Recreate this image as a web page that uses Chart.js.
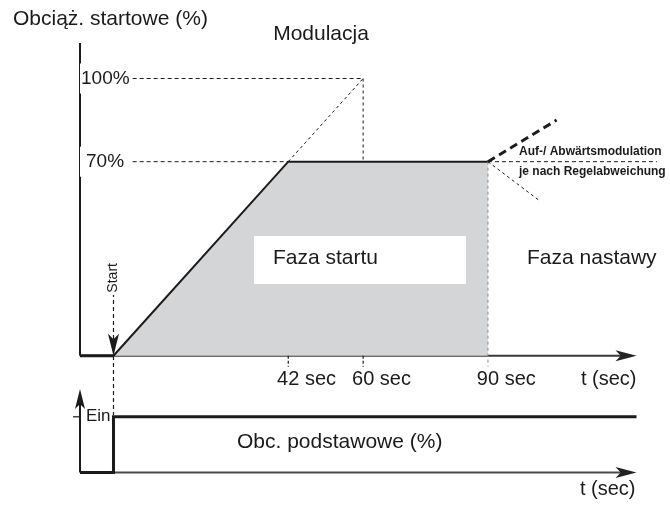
<!DOCTYPE html>
<html>
<head>
<meta charset="utf-8">
<script src="https://cdn.jsdelivr.net/npm/chart.js@4.4.1/dist/chart.umd.min.js"></script>
<style>
  html, body { margin: 0; padding: 0; background: #fff; }
  #wrap { width: 670px; height: 506px; }
</style>
</head>
<body>
<div id="wrap"><canvas id="chart" width="670" height="506"></canvas></div>
<script>
// time axis (sec) and load (%) of the burner start-up
const timeMin = -8.05;
const timeMax = 125.7;
const loadMax = 112.8;

// start phase: ramp from 0 to 70 % in 42 s, hold until 90 s
const rampTimes = [0, 42, 90];
const rampLoads = [0, 70, 70];
const preStartTimes = [timeMin, 0];

// ramp continued up to 100 % at 60 s (dashed)
const peakTimes = [42, 60];
const peakLoads = [70, 100];

// reference levels on the load axis
const levelLoads = [100, 70];
const levelLabels = ["100%", "70%"];
const levelStart = 4.6;
const levelEnds = [60, 42];
const holdLineEnd = 130.6;

// time ticks
const tickTimes = [42, 60, 90];
const tickLabels = ["42 sec", "60 sec", "90 sec"];

// modulation after 90 s: up (thick dashed) or down (thin dashed)
const modUpTimes = [90, 106.5];
const modUpLoads = [70, 85];
const modDownTimes = [90, 102.5];
const modDownLoads = [70, 55.8];

// start marker
const startTop = 22.6;
const startBottom = -21.4;

// base load signal (0 = aus, 1 = ein)
const baseTimes = [timeMin, 0, 0, timeMax];
const baseStates = [0, 0, 1, 1];

const ink = "#1b1b1b";
const family = "'Liberation Sans', Arial, sans-serif";

function pts(xs, ys) {
  return xs.map((t, i) => ({ x: t, y: ys[i] }));
}

function seg(data, color, width, dash, axis) {
  return {
    data: data,
    showLine: true,
    pointRadius: 0,
    borderColor: color,
    borderWidth: width,
    borderDash: dash || [],
    fill: false,
    clip: false,
    yAxisID: axis || "y"
  };
}

const datasets = [];

// modulation paths
datasets.push(seg(pts(modUpTimes, modUpLoads), ink, 3, [8, 5]));
datasets.push(seg(pts(modDownTimes, modDownLoads), ink, 1, [3, 3]));

// reference level lines
levelLoads.forEach((load, i) => {
  datasets.push(seg(pts([levelStart, levelEnds[i]], [load, load]), ink, 1, [4, 3]));
});
datasets.push(seg(pts([90, holdLineEnd], [70, 70]), ink, 1, [4, 3]));

// dashed ramp continuation and drop from 100 %
datasets.push(seg(pts(peakTimes, peakLoads), ink, 1, [3, 3]));
datasets.push(seg(pts([peakTimes[1], peakTimes[1]], [peakLoads[1], 70]), ink, 1, [3, 3]));

// end of start phase marker
datasets.push(seg(pts([90, 90], [70, -4]), "#8a8a8a", 1, [3, 3]));
tickTimes.slice(0, 2).forEach(t => {
  datasets.push(seg(pts([t, t], [0, -4]), ink, 1.2, [3, 2]));
});

// start marker line
datasets.push(seg(pts([0, 0], [startTop, startBottom]), ink, 1.2, [4, 3]));

// base load signal
datasets.push(seg(pts(baseTimes, baseStates), ink, 3, [], "y2"));

// load before start
datasets.push(seg(pts(preStartTimes, [0, 0]), ink, 3));

// start ramp with filled area
datasets.push({
  data: pts(rampTimes, rampLoads),
  showLine: true,
  pointRadius: 0,
  borderColor: ink,
  borderWidth: 2,
  backgroundColor: "#d4d5d7",
  fill: { value: 0 },
  clip: false,
  yAxisID: "y"
});

function line(ctx, x1, y1, x2, y2, color, width) {
  ctx.beginPath();
  ctx.strokeStyle = color;
  ctx.lineWidth = width;
  ctx.moveTo(x1, y1);
  ctx.lineTo(x2, y2);
  ctx.stroke();
}

// arrow head pointing along (dx, dy), with a small notch at the base
function arrow(ctx, tx, ty, dx, dy, len, half, color) {
  const px = -dy, py = dx;
  ctx.beginPath();
  ctx.fillStyle = color;
  ctx.moveTo(tx, ty);
  ctx.lineTo(tx - dx * len + px * half, ty - dy * len + py * half);
  ctx.lineTo(tx - dx * len * 0.75, ty - dy * len * 0.75);
  ctx.lineTo(tx - dx * len - px * half, ty - dy * len - py * half);
  ctx.closePath();
  ctx.fill();
}

function text(ctx, s, x, y, font, align) {
  ctx.font = font;
  ctx.fillStyle = ink;
  ctx.textAlign = align || "left";
  ctx.textBaseline = "middle";
  ctx.fillText(s, x, y);
}

const decor = {
  id: "decor",
  beforeDatasetsDraw(chart) {
    const { ctx, scales: { x, y, y2 } } = chart;
    const x0 = x.getPixelForValue(timeMin);
    const xEnd = x.getPixelForValue(timeMax);
    ctx.save();
    // load axis (upper)
    line(ctx, x0, y.getPixelForValue(loadMax), x0, y.getPixelForValue(0), ink, 2);
    // time axis (upper)
    line(ctx, x0, y.getPixelForValue(0), xEnd - 12, y.getPixelForValue(0), "#3a3a3a", 2);
    // time axis (lower)
    line(ctx, x0, y2.getPixelForValue(0), xEnd - 12, y2.getPixelForValue(0), "#4a4a4a", 2);
    // signal axis (lower)
    line(ctx, x0, y2.getPixelForValue(0), x0, y2.getPixelForValue(1.5) + 12, ink, 2);
    line(ctx, x0 - 7, y2.getPixelForValue(1), x0, y2.getPixelForValue(1), ink, 1.2);
    ctx.restore();
  },
  afterDatasetsDraw(chart) {
    const { ctx, scales: { x, y, y2 } } = chart;
    const x0 = x.getPixelForValue(timeMin);
    const xEnd = x.getPixelForValue(timeMax);
    const xs = x.getPixelForValue(0);
    ctx.save();

    arrow(ctx, xEnd, y.getPixelForValue(0), 1, 0, 21, 5.5, "#222");
    arrow(ctx, xEnd, y2.getPixelForValue(0), 1, 0, 21, 5.5, "#222");
    arrow(ctx, x0, y2.getPixelForValue(1.5), 0, -1, 20, 5, ink);
    arrow(ctx, xs, y.getPixelForValue(0), 0, 1, 22, 5.5, ink);

    // level labels on the load axis
    const levelFont = "19px " + family;
    levelLoads.forEach((load, i) => {
      const py = y.getPixelForValue(load);
      ctx.fillStyle = "#fff";
      ctx.fillRect(x0, py - 15, 48, 30);
      text(ctx, levelLabels[i], i === 0 ? x0 + 1 : x0 + 6, py, levelFont);
    });

    // time tick labels, number centred on the tick
    const tickFont = "20px " + family;
    tickTimes.forEach((t, i) => {
      ctx.font = tickFont;
      const num = tickLabels[i].split(" ")[0];
      const w = ctx.measureText(num).width;
      text(ctx, tickLabels[i], x.getPixelForValue(t) - w / 2, 379, tickFont);
    });
    text(ctx, "t (sec)", xEnd, 379, tickFont, "right");
    text(ctx, "t (sec)", xEnd - 1, 489, tickFont, "right");

    const big = "21px " + family;
    text(ctx, "Obciąż. startowe (%)", 13, 19, big);
    text(ctx, "Modulacja", 321, 34, big, "center");

    // phase labels
    ctx.fillStyle = "#fff";
    ctx.fillRect(254, 236, 212, 48);
    text(ctx, "Faza startu", 273, 258, big);
    text(ctx, "Faza nastawy", 527, 258, big);

    const small = "bold 12px " + family;
    text(ctx, "Auf-/ Abwärtsmodulation", 519, 152, small);
    text(ctx, "je nach Regelabweichung", 519, 172, small);

    text(ctx, "Obc. podstawowe (%)", 237, 442, big);
    text(ctx, "Ein", x0 + 6, y2.getPixelForValue(1), "17px " + family);

    // rotated start label
    ctx.save();
    ctx.translate(xs, y.getPixelForValue(28.1));
    ctx.rotate(-Math.PI / 2);
    ctx.fillStyle = "#fff";
    ctx.fillRect(-17, -8, 34, 16);
    text(ctx, "Start", 0, 0, "14px " + family, "center");
    ctx.restore();

    ctx.restore();
  }
};

new Chart(document.getElementById("chart"), {
  type: "scatter",
  data: { datasets: datasets },
  options: {
    responsive: false,
    animation: false,
    events: [],
    layout: { padding: { left: 80, right: 33.5, top: 43, bottom: 33.5 } },
    plugins: { legend: { display: false }, tooltip: { enabled: false } },
    scales: {
      x: { type: "linear", min: timeMin, max: timeMax, display: false },
      y: { min: -42.1, max: loadMax, display: false },
      y2: { min: 0, max: 7.71, display: false }
    }
  },
  plugins: [decor]
});
</script>
</body>
</html>
